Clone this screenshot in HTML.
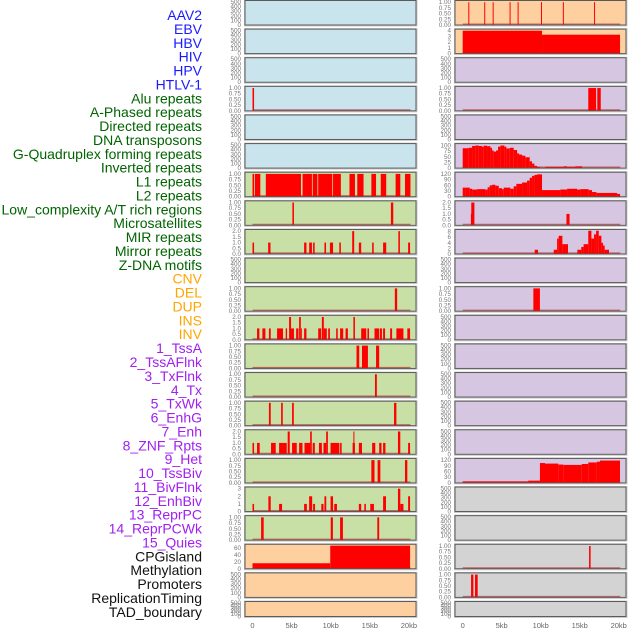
<!DOCTYPE html>
<html><head><meta charset="utf-8">
<style>
html,body{margin:0;padding:0;background:#fff;width:630px;height:630px;overflow:hidden}
svg{display:block}
</style></head>
<body>
<svg id="chart" width="630" height="630" xmlns="http://www.w3.org/2000/svg"></svg>
<script>
// ---------- data ----------
const trackLabels = ["AAV2","EBV","HBV","HIV","HPV","HTLV-1","Alu repeats","A-Phased repeats","Directed repeats","DNA transposons","G-Quadruplex forming repeats","Inverted repeats","L1 repeats","L2 repeats","Low_complexity A/T rich regions","Microsatellites","MIR repeats","Mirror repeats","Z-DNA motifs","CNV","DEL","DUP","INS","INV","1_TssA","2_TssAFlnk","3_TxFlnk","4_Tx","5_TxWk","6_EnhG","7_Enh","8_ZNF_Rpts","9_Het","10_TssBiv","11_BivFlnk","12_EnhBiv","13_ReprPC","14_ReprPCWk","15_Quies","CPGisland","Methylation","Promoters","ReplicationTiming","TAD_boundary"];
const labelColors = ["#1a1aff","#1a1aff","#1a1aff","#1a1aff","#1a1aff","#1a1aff","#006400","#006400","#006400","#006400","#006400","#006400","#006400","#006400","#006400","#006400","#006400","#006400","#006400","#ffa500","#ffa500","#ffa500","#ffa500","#ffa500","#a020f0","#a020f0","#a020f0","#a020f0","#a020f0","#a020f0","#a020f0","#a020f0","#a020f0","#a020f0","#a020f0","#a020f0","#a020f0","#a020f0","#a020f0","#111","#111","#111","#111","#111"];
const xTicks = [0,5,10,15,20];
const xTickLabels = ["0","5kb","10kb","15kb","20kb"];

const tickEmpty = [0,100,200,300,400,500];
const tick1 = [0,0.25,0.5,0.75,1];
const tick2 = [0,0.5,1,1.5,2];
const tick3 = [0,1,2,3];
const tickCpg = [0,20,40,60];
const tick4 = [0,1,2,3,4];
const tick100 = [0,25,50,75,100];
const tick120 = [0,30,60,90,120];
const tick8 = [0,2,4,6,8];

// bars: [startKb, endKb, value]
const L_alu = [[0,0.2,1]];
const L_l1 = [[0,0.2,1],[0.3,1.0,1],[1.7,6.2,1],[6.4,7.6,1],[7.7,8.3,1],[8.4,10.2,1],[10.3,11.3,1],[12.4,13.1,1],[13.4,14.2,1],[15.2,15.8,1],[16.4,17.1,1],[18.3,18.9,1],[19.5,20.2,1]];
const L_r7 = [[5.1,5.3,1],[17.7,18.0,1]];
const L_r8 = [[0,0.2,1],[2.0,2.3,1],[6.6,6.9,1],[7.25,7.6,1],[7.75,7.95,1],[9.2,9.4,1],[9.9,10.3,1],[11.1,11.3,1],[12.75,13.0,2],[13.6,13.9,1],[15.3,15.5,1],[16.7,17.1,1],[18.65,18.85,2],[19.9,20.15,1]];
const L_r10 = [[18.2,18.5,1]];
const L_r11 = [[0.58,0.88,1],[1.26,1.65,1],[2.1,2.33,1],[3.14,3.9,1],[4.25,4.42,1],[4.68,4.93,2],[4.93,5.3,1],[5.58,5.88,1],[5.96,6.18,2],[6.18,6.3,1],[6.6,6.9,1],[8.4,8.78,1],[8.87,9.12,2],[9.12,9.5,1],[9.68,9.9,1],[10.7,10.9,1],[11.2,11.6,1],[11.9,12.2,1],[12.9,13.1,2],[13.9,14.55,1],[14.7,14.9,1],[15.6,16.2,1],[16.3,16.55,1],[16.7,16.95,1],[17.6,17.85,1],[18.4,19.3,1],[19.8,20.15,1]];
const L_r12 = [[13.3,13.65,1],[14.0,14.76,1],[15.8,16.2,1]];
const L_r13 = [[15.66,15.9,1]];
const L_r14 = [[2.1,2.33,1],[3.66,3.87,1],[5.06,5.28,1],[18.1,18.4,1]];
const L_r15 = [[0,0.2,1],[0.58,0.92,1],[2.37,2.97,1],[3.4,4.38,1],[4.5,4.76,2],[5.06,5.66,1],[5.96,6.39,1],[6.65,7.37,1],[7.37,7.58,2],[7.7,7.97,1],[8.5,8.87,1],[9.08,9.42,1],[9.42,9.64,2],[9.98,11.1,1],[11.2,11.4,1],[12.8,13.1,1],[12.9,13.0,2],[13.6,14.0,1],[15.3,15.7,1],[16.2,16.5,1],[16.7,17.0,1],[18.6,18.9,2],[19.9,20.15,1]];
const L_r16 = [[15.2,15.6,1],[16.0,16.35,1],[19.5,19.8,1]];
const L_r17 = [[0,0.2,1],[2.03,2.33,2],[3.4,3.78,1],[6.6,6.95,1],[7.24,7.63,2],[7.75,8.0,1],[8.8,9.08,1],[9.2,9.43,2],[9.98,10.3,2],[10.45,10.8,1],[13.6,13.9,1],[14.3,14.5,1],[15.06,15.53,1],[16.7,17.07,2],[18.6,18.9,3],[18.9,19.3,1],[19.9,20.15,2]];
const L_r18 = [[1.1,1.43,1],[10.0,10.28,1],[11.2,11.56,1],[15.96,16.2,1]];
const L_cpg = [[0,9.94,16],[9.94,20.15,67]];

const R_r0 = [[0.72,0.84,1],[2.76,2.88,1],[3.84,3.96,1],[6.01,6.13,1],[7.04,7.16,1],[10.04,10.16,1],[12.84,12.96,1],[16.84,16.96,1]];
const R_r1 = [[0,10.17,4],[10.17,20.17,3.3]];
const R_r3 = [[16.1,17.1,1],[17.26,17.7,1]];
const R_r5 = [[0,0.77,88],[0.77,1.2,90],[1.2,1.62,98],[1.62,2.05,100],[2.05,2.47,98],[2.47,2.69,95],[2.69,3.12,99],[3.12,3.55,97],[3.55,3.76,90],[3.76,3.97,78],[3.97,4.27,73],[4.27,4.53,78],[4.53,4.83,95],[4.83,5.34,100],[5.34,5.6,95],[5.6,6.03,87],[6.03,6.54,90],[6.54,6.97,80],[6.97,7.22,65],[7.22,7.61,60],[7.61,8.03,55],[8.03,8.59,48],[8.59,8.89,30],[8.89,9.19,20],[9.19,9.53,10],[9.53,9.87,6],[9.87,10.17,3],[10.6,12.95,6],[12.95,13.38,8],[13.38,14.44,6],[14.44,15.3,8]];
const R_r6 = [[0,0.34,48],[0.34,0.9,48],[0.9,1.2,42],[1.2,1.84,38],[1.84,2.9,40],[2.9,3.2,38],[3.2,3.46,50],[3.46,3.76,60],[3.76,4.19,63],[4.19,4.62,58],[4.62,5.04,45],[5.04,5.26,40],[5.26,6.11,48],[6.11,6.54,42],[6.54,6.88,55],[6.88,7.61,68],[7.61,8.25,75],[8.25,8.59,85],[8.59,8.89,100],[8.89,9.19,110],[9.19,9.53,115],[9.53,10.17,118],[10.17,12.52,35],[12.52,13.38,38],[13.38,14.66,42],[14.66,15.09,38],[15.09,16.15,40],[16.15,16.58,35],[16.58,17.14,25],[17.14,19.79,20],[19.79,20.17,15]];
const R_r7 = [[1.05,1.15,1],[1.1,1.5,2],[13.3,13.7,1]];
const R_r8 = [[9.23,9.66,1.5],[11.67,12.1,1.5],[12.1,12.3,5.5],[12.3,12.78,6.5],[12.78,13.5,3.5],[14.7,15.2,1.5],[15.2,15.5,2.5],[15.5,16.1,3.5],[16.1,16.5,8.3],[16.5,16.84,5.5],[16.84,17.1,7],[17.1,17.44,8.3],[17.44,17.78,6.5],[17.78,17.99,4],[17.99,18.2,3],[18.2,18.76,1.5]];
const R_r10 = [[9.06,9.9,1]];
const R_r16 = [[0,8.4,8],[8.4,9.9,12],[9.9,10.55,105],[10.55,12.26,102],[12.26,12.9,97],[12.9,15.26,95],[15.26,16.1,100],[16.1,17.2,108],[17.2,17.6,112],[17.6,20.17,118]];
const R_r19 = [[16.2,16.4,1]];
const R_r20 = [[1.07,1.37,1],[1.58,1.92,1]];

const BLUE="#c9e4ec", GREEN="#c8e0a6", PURPLE="#d6c6e2", ORANGE="#ffd09f", GRAY="#d3d3d3";

// panel specs: [bg, ticks, max, bars]
const leftPanels = [
 [BLUE,tickEmpty,510,null],[BLUE,tickEmpty,510,null],[BLUE,tickEmpty,510,null],[BLUE,tick1,1.03,L_alu],
 [BLUE,tickEmpty,510,null],[BLUE,tickEmpty,510,null],[GREEN,tick1,1.03,L_l1],[GREEN,tick1,1.03,L_r7],
 [GREEN,tick2,2.06,L_r8],[GREEN,tickEmpty,510,null],[GREEN,tick1,1.03,L_r10],[GREEN,tick2,2.06,L_r11],
 [GREEN,tick1,1.03,L_r12],[GREEN,tick1,1.03,L_r13],[GREEN,tick1,1.03,L_r14],[GREEN,tick2,2.06,L_r15],
 [GREEN,tick1,1.03,L_r16],[GREEN,tick3,3.08,L_r17],[GREEN,tick1,1.03,L_r18],[ORANGE,tickCpg,68,L_cpg],
 [ORANGE,tickEmpty,510,null],[ORANGE,tickEmpty,510,null]
];
const rightPanels = [
 [ORANGE,tick1,1.03,R_r0],[ORANGE,tick4,4.1,R_r1],[PURPLE,tickEmpty,510,null],[PURPLE,tick1,1.03,R_r3],
 [PURPLE,tickEmpty,510,null],[PURPLE,tick100,104,R_r5],[PURPLE,tick120,124,R_r6],[PURPLE,tick2,2.06,R_r7],
 [PURPLE,tick8,8.4,R_r8],[PURPLE,tickEmpty,510,null],[PURPLE,tick1,1.03,R_r10],[PURPLE,tickEmpty,510,null],
 [PURPLE,tickEmpty,510,null],[PURPLE,tickEmpty,510,null],[PURPLE,tickEmpty,510,null],[PURPLE,tickEmpty,510,null],
 [PURPLE,tick120,124,R_r16],[GRAY,tickEmpty,510,null],[GRAY,tickEmpty,510,null],[GRAY,tick1,1.03,R_r19],
 [GRAY,tick1,1.03,R_r20],[GRAY,tickEmpty,510,null]
];

// ---------- drawing ----------
const NS="http://www.w3.org/2000/svg";
const svg=document.getElementById('chart');
function mk(tag,attrs,parent){const e=document.createElementNS(NS,tag);for(const k in attrs)e.setAttribute(k,attrs[k]);(parent||svg).appendChild(e);return e;}

// labels
trackLabels.forEach((t,i)=>{
  const e=mk('text',{x:202,y:15+i*13.88+5,'text-anchor':'end','font-family':'Liberation Sans, sans-serif','font-size':'14',fill:labelColors[i]});
  e.textContent=t;
  
  
});

const cols=[{px:245,pw:171,x0:252.5,scale:7.82},{px:455,pw:171,x0:462.7,scale:7.8}];
function rowTop(r){return 0.5+r*28.62;}
function rowH(r){return r===21?15:24.5;}
function fmt(t,ticks){
  if(ticks===tick1) return t.toFixed(2);
  if(ticks===tick2) return t.toFixed(1);
  return String(t);
}

function drawPanel(col,r,spec){
  const [bg,ticks,max,bars]=spec;
  const c=cols[col];
  const top=rowTop(r),h=rowH(r),bot=top+h;
  const xs=kb=>c.x0+kb*c.scale;
  const ys=v=>bot-v/max*(h-1);
  const g=mk('g',{});
  
  
  const sh=mk('rect',{x:c.px-0.5,y:top-0.5,width:c.pw+1.5,height:h+1.5,fill:'none',stroke:'#ccc','stroke-width':1},g);
  
  
  const bgr=mk('rect',{x:c.px,y:top,width:c.pw,height:h,fill:bg},g);
  
  
  if(bars){
    const bl=mk('line',{x1:xs(0),x2:xs(20.2),y1:bot-0.8,y2:bot-0.8,stroke:'rgba(190,50,50,0.7)','stroke-width':1.5},g);
    
    
    bars.forEach(b=>{
      const x1=xs(b[0]),x2=xs(b[1]);
      const y=ys(b[2]);
      const br=mk('rect',{x:x1,y:y,width:Math.max(x2-x1,1),height:bot-y,fill:'#ff0000'},g);
      
      
    });
  }
  const bd=mk('rect',{x:c.px,y:top,width:c.pw,height:h,fill:'none',stroke:'#5a5a5a','stroke-width':1},g);
  
  
  ticks.forEach(t=>{
    const tt=mk('text',{x:c.px-4,y:ys(t)+2,'text-anchor':'end','font-family':'Liberation Sans, sans-serif','font-size':'6.3',fill:'#777'},g);
    tt.textContent=fmt(t,ticks);
    
    
  });
}
leftPanels.forEach((s,r)=>drawPanel(0,r,s));
rightPanels.forEach((s,r)=>drawPanel(1,r,s));

// x axes
cols.forEach(c=>{
  xTicks.forEach((t,i)=>{
    const e=mk('text',{x:c.x0+t*c.scale,y:628,'text-anchor':'middle','font-family':'Liberation Sans, sans-serif','font-size':'7.5',fill:'#666'});
    e.textContent=xTickLabels[i];
    
    
  });
});
</script>
</body></html>
